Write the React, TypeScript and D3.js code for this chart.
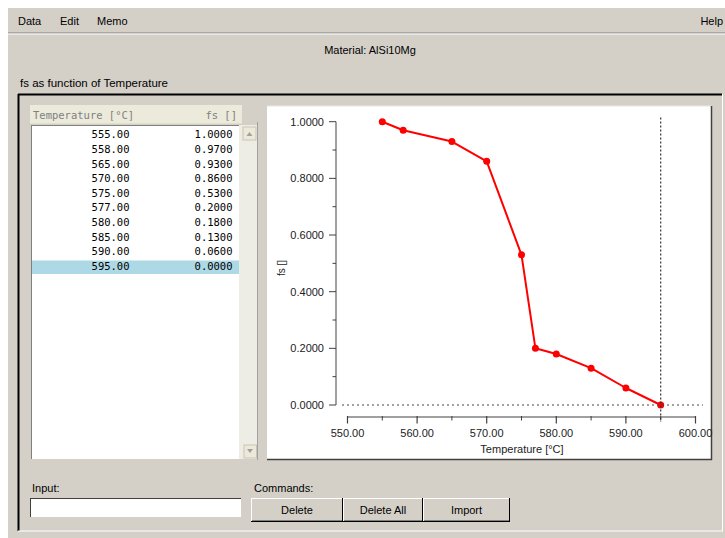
import React from "react";
import * as d3 from "d3";

const temperatures = [555, 558, 565, 570, 575, 577, 580, 585, 590, 595];
const fsValues = [1.0, 0.97, 0.93, 0.86, 0.53, 0.2, 0.18, 0.13, 0.06, 0.0];
const xMajorTicks = [550, 560, 570, 580, 590, 600];
const xMinorTicks = [555, 565, 575, 585, 595];
const yMajorTicks = [0, 0.2, 0.4, 0.6, 0.8, 1.0];
const yMinorTicks = [0.1, 0.3, 0.5, 0.7, 0.9];
const menuItems = ["Data", "Edit", "Memo"];
const buttons = ["Delete", "Delete All", "Import"];
const selectedIndex = 9;

const W = 725;
const H = 538;
const GRAY = "#d4d0c8";
const UI_FONT = "'Liberation Sans', Arial, sans-serif";
const MONO = "'DejaVu Sans Mono', 'Liberation Mono', monospace";

export default function App() {
  const x = d3.scaleLinear().domain([550, 600]).range([347.5, 695.5]);
  const y = d3.scaleLinear().domain([0, 1]).range([405, 121.7]);
  const line = d3
    .line<number>()
    .x((_, i) => x(temperatures[i]))
    .y((d) => y(d));

  const menuX = [18, 60, 97];
  const rowY = d3.scaleLinear().domain([0, 9]).range([138.3, 270]);
  const btnX = d3.scaleOrdinal<string, [number, number]>().domain(buttons).range([
    [251, 343],
    [343, 423],
    [423, 510],
  ]);

  return (
    <svg
      width={W}
      height={H}
      style={{ position: "absolute", left: 0, top: 0, display: "block" }}
      fontFamily={UI_FONT}
    >
      <rect x={0} y={0} width={W} height={H} fill="#ffffff" />
      <rect x={8} y={8} width={W - 8} height={H - 8} fill={GRAY} />

      {/* menu bar */}
      {menuItems.map((m, i) => (
        <text key={m} x={menuX[i]} y={25} fontSize={11} fill="#000">
          {m}
        </text>
      ))}
      <text x={723} y={25} fontSize={11} textAnchor="end" fill="#000">
        Help
      </text>
      <line x1={8} x2={W} y1={33} y2={33} stroke="#808080" strokeWidth={1} />
      <line x1={8} x2={W} y1={34} y2={34} stroke="#ffffff" strokeWidth={1} />

      <text x={370} y={54} fontSize={11} textAnchor="middle" fill="#000">
        Material: AlSi10Mg
      </text>
      <text x={20} y={87} fontSize={11} fill="#000" textLength={148} lengthAdjust="spacingAndGlyphs">
        fs as function of Temperature
      </text>

      {/* main frame */}
      <line x1={18} x2={722} y1={94.5} y2={94.5} stroke="#000" strokeWidth={2} />
      <line x1={18.5} x2={18.5} y1={94} y2={531} stroke="#000" strokeWidth={2} />
      <line x1={722.5} x2={722.5} y1={94} y2={531} stroke="#ffffff" strokeWidth={1} />
      <line x1={18} x2={723} y1={531} y2={531} stroke="#ffffff" strokeWidth={1} />

      {/* table header */}
      <rect x={30} y={105} width={212} height={19} fill="#ebeadb" />
      <line x1={30} x2={242} y1={124} y2={124} stroke="#d6d2c2" />
      <text x={33} y={119} fontSize={10.5} fontFamily={MONO} fill="#808080">
        Temperature [°C]
      </text>
      <text x={237} y={119} fontSize={10.5} fontFamily={MONO} fill="#808080" textAnchor="end">
        fs []
      </text>

      {/* table body */}
      <rect x={32} y={125} width={207} height={334} fill="#ffffff" />
      <line x1={31.5} x2={31.5} y1={125} y2={459} stroke="#808080" />
      <line x1={31.5} x2={240} y1={125.5} y2={125.5} stroke="#808080" />
      <rect
        x={32}
        y={rowY(selectedIndex) - 9.5}
        width={207}
        height={13.5}
        fill="#add8e6"
      />
      {temperatures.map((t, i) => (
        <g key={t}>
          <text x={129.5} y={rowY(i)} fontSize={10.5} fontFamily={MONO} textAnchor="end" fill="#000">
            {t.toFixed(2)}
          </text>
          <text x={232.5} y={rowY(i)} fontSize={10.5} fontFamily={MONO} textAnchor="end" fill="#000">
            {fsValues[i].toFixed(4)}
          </text>
        </g>
      ))}

      {/* scrollbar */}
      <rect x={239} y={125} width={18} height={334} fill="#eeede5" />
      <line x1={257.5} x2={257.5} y1={122} y2={460} stroke="#a0a0a0" />
      <rect x={243} y={127} width={13} height={13} fill="#ece9d8" stroke="#c8c5b8" />
      <path d="M246.5,136 L249.5,132 L252.5,136 Z" fill="#a0a0a0" />
      <rect x={244} y={445} width={12.5} height={13} fill="#ece9d8" stroke="#c8c5b8" />
      <path d="M247,449 L250,453 L253,449 Z" fill="#a0a0a0" />

      {/* chart panel */}
      <rect x={267} y={106} width={444} height={353} fill="#ffffff" />
      <line x1={267} x2={711} y1={106} y2={106} stroke="#e8e6e0" />
      <line x1={711.5} x2={711.5} y1={106} y2={460} stroke="#404040" strokeWidth={1.5} />
      <line x1={267} x2={712} y1={459.5} y2={459.5} stroke="#404040" strokeWidth={1.5} />

      {/* y axis */}
      <line x1={336} x2={336} y1={y(1)} y2={y(0)} stroke="#808080" strokeWidth={1.5} />
      {yMajorTicks.map((t) => (
        <g key={t}>
          <line x1={329} x2={336} y1={y(t)} y2={y(t)} stroke="#404040" strokeWidth={1} />
          <text x={324} y={y(t) + 4} fontSize={11} textAnchor="end" fill="#222">
            {t.toFixed(4)}
          </text>
        </g>
      ))}
      {yMinorTicks.map((t) => (
        <line key={t} x1={332.5} x2={336} y1={y(t)} y2={y(t)} stroke="#404040" strokeWidth={1} />
      ))}
      <text
        transform={`translate(${285},${268}) rotate(-90)`}
        fontSize={10}
        textAnchor="middle"
        fill="#222"
      >
        fs []
      </text>

      {/* x axis */}
      <line x1={x(550)} x2={x(600)} y1={417} y2={417} stroke="#808080" strokeWidth={1.5} />
      {xMajorTicks.map((t) => (
        <g key={t}>
          <line x1={x(t)} x2={x(t)} y1={416} y2={423.5} stroke="#404040" strokeWidth={1.2} />
          <text x={x(t)} y={437} fontSize={11} textAnchor="middle" fill="#222">
            {t.toFixed(2)}
          </text>
        </g>
      ))}
      {xMinorTicks.map((t) => (
        <line key={t} x1={x(t)} x2={x(t)} y1={416} y2={420.5} stroke="#404040" strokeWidth={1} />
      ))}
      <text x={522} y={453} fontSize={11} textAnchor="middle" fill="#222">
        Temperature [°C]
      </text>

      {/* series */}
      <path d={line(fsValues) || ""} fill="none" stroke="#ff0000" strokeWidth={2} strokeLinejoin="round" />
      {fsValues.map((v, i) => (
        <circle key={i} cx={x(temperatures[i])} cy={y(v)} r={3.5} fill="#ff0000" />
      ))}

      {/* reference dashed lines */}
      <line
        x1={342}
        x2={703}
        y1={y(0)}
        y2={y(0)}
        stroke="#444"
        strokeWidth={1}
        strokeDasharray="2,3"
      />
      <line
        x1={x(temperatures[selectedIndex])}
        x2={x(temperatures[selectedIndex])}
        y1={117.5}
        y2={422}
        stroke="#333"
        strokeWidth={1.2}
        strokeDasharray="2,2"
      />

      {/* bottom controls */}
      <text x={32} y={492} fontSize={11} fill="#000">
        Input:
      </text>
      <rect x={30} y={498} width={211} height={19} fill="#ffffff" />
      <line x1={30} x2={241} y1={498.5} y2={498.5} stroke="#404040" />
      <line x1={30.5} x2={30.5} y1={498} y2={517} stroke="#404040" />

      <text x={254} y={492} fontSize={11} fill="#000">
        Commands:
      </text>
      {buttons.map((b) => {
        const [x0, x1] = btnX(b);
        return (
          <g key={b}>
            <rect x={x0} y={498} width={x1 - x0} height={24} fill={GRAY} />
            <line x1={x0} x2={x1} y1={498.5} y2={498.5} stroke="#ffffff" />
            <line x1={x0 + 0.5} x2={x0 + 0.5} y1={498} y2={522} stroke="#ffffff" />
            <line x1={x0} x2={x1} y1={521.5} y2={521.5} stroke="#000" />
            <line x1={x1 - 0.5} x2={x1 - 0.5} y1={498} y2={522} stroke="#000" />
            <line x1={x0 + 1} x2={x1 - 1} y1={520.5} y2={520.5} stroke="#808080" />
            <text x={(x0 + x1) / 2} y={514} fontSize={11} textAnchor="middle" fill="#000">
              {b}
            </text>
          </g>
        );
      })}
    </svg>
  );
}
